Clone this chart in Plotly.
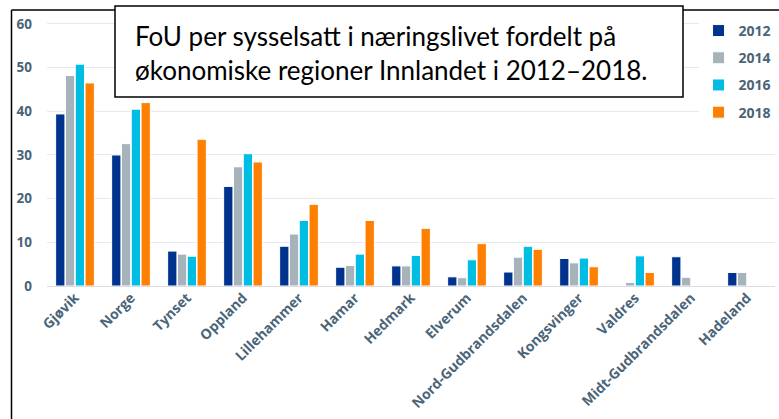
import plotly.graph_objects as go

categories = ["Gjøvik", "Norge", "Tynset", "Oppland", "Lillehammer", "Hamar", "Hedmark",
              "Elverum", "Nord-Gudbrandsdalen", "Kongsvinger", "Valdres",
              "Midt-Gudbrandsdalen", "Hadeland"]
v2012 = [39.4, 30.0, 8.0, 22.8, 9.1, 4.3, 4.6, 2.1, 3.2, 6.3, None, 6.7, 3.1]
v2014 = [48.2, 32.6, 7.3, 27.3, 11.9, 4.7, 4.6, 1.9, 6.6, 5.3, 0.8, 2.0, 3.1]
v2016 = [50.8, 40.5, 6.8, 30.3, 15.0, 7.3, 7.0, 6.0, 9.1, 6.4, 6.9, None, None]
v2018 = [46.5, 42.0, 33.6, 28.4, 18.7, 15.0, 13.2, 9.7, 8.4, 4.4, 3.1, None, None]
years = ["2012", "2014", "2016", "2018"]
colors = ["#00338d", "#a7b3bb", "#00bde4", "#ff7f00"]
yticks = [0, 10, 20, 30, 40, 50, 60]
title_text = "FoU per sysselsatt i næringslivet fordelt på<br>økonomiske regioner Innlandet i 2012–2018."

label_color = "#4a6478"
lab_font = "Open Sans"
fig = go.Figure()
for yr, vals, col in zip(years, [v2012, v2014, v2016, v2018], colors):
    fig.add_trace(go.Bar(x=categories, y=vals, name=yr, legendgroup=yr,
                         marker=dict(color=col, line=dict(color="white", width=1))))

# plot area spans y px 10..286 ; 60 sits at px 24
fig.update_layout(
    width=779, height=419,
    margin=dict(l=47, r=4, t=10, b=133, autoexpand=False),
    paper_bgcolor="white", plot_bgcolor="white",
    barmode="group", bargap=0.3, bargroupgap=0.05,
    font=dict(family=lab_font, color=label_color),
    showlegend=True,
    legend=dict(x=0.895, xanchor="left", y=0.982, yanchor="top",
                bgcolor="white", traceorder="grouped", tracegroupgap=6,
                font=dict(family=lab_font, size=14, color=label_color, weight="bold")),
    xaxis=dict(tickangle=-45, automargin=False,
               tickfont=dict(family=lab_font, size=14, color=label_color, weight="bold"),
               showgrid=False, showline=False, ticks=""),
    yaxis=dict(range=[0, 63.2], tickvals=yticks, automargin=False,
               showgrid=True, gridcolor="#e8e8f0", gridwidth=1,
               zeroline=True, zerolinecolor="#dcdce4", zerolinewidth=1,
               tickfont=dict(family=lab_font, size=13.5, color=label_color, weight="bold"),
               ticklabelstandoff=14),
)

H = 276.0
def py(px):
    return (286 - px) / H
def px_(px):
    return (px - 47) / 728.0

# outer frame (left and top edges)
fig.add_shape(type="line", xref="paper", yref="paper", x0=px_(11.5), x1=px_(11.5), y0=py(10), y1=py(430),
              line=dict(color="black", width=1.5))
fig.add_shape(type="line", xref="paper", yref="paper", x0=px_(11.5), x1=px_(790), y0=py(10), y1=py(10),
              line=dict(color="black", width=1.5))
# title box
fig.add_shape(type="rect", xref="paper", yref="paper", x0=px_(115), x1=px_(683), y0=py(97), y1=py(6),
              line=dict(color="black", width=1.5), fillcolor="white", layer="above")
fig.add_annotation(xref="paper", yref="paper", x=px_(133), y=py(53), xanchor="left", yanchor="middle",
                   text=title_text, showarrow=False, align="left",
                   font=dict(family="Lato", size=26, color="black"))

fig.write_html("out.html", config={"displayModeBar": False},
               post_script="document.body.style.margin='0px';")
